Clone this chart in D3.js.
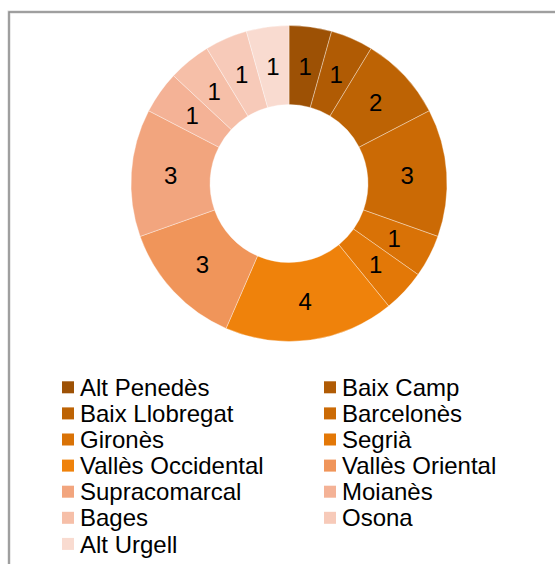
<!DOCTYPE html>
<html>
<head>
<meta charset="utf-8">
<script src="https://cdn.jsdelivr.net/npm/d3@7"></script>
<style>
  html, body { margin: 0; padding: 0; background: #fff; }
  svg { display: block; }
  text { font-family: "Liberation Sans", Arial, sans-serif; }
</style>
</head>
<body>
<svg id="chart" width="555" height="564"></svg>
<script>
// Comarques and their counts
const categories = ["Alt Penedès", "Baix Camp", "Baix Llobregat", "Barcelonès", "Gironès", "Segrià",
  "Vallès Occidental", "Vallès Oriental", "Supracomarcal", "Moianès", "Bages", "Osona", "Alt Urgell"];
const values = [1, 1, 2, 3, 1, 1, 4, 3, 3, 1, 1, 1, 1];
const colors = ["#9d5105", "#b05b04", "#bd6304", "#cb6a05", "#d97206", "#e37807", "#ef820b",
  "#f0955a", "#f2a57e", "#f4b296", "#f6bfa8", "#f7cab9", "#f9dbd0"];

const svg = d3.select("#chart");

// Frame of the chart area
svg.append("rect")
  .attr("x", 9).attr("y", 12).attr("width", 560).attr("height", 570)
  .attr("fill", "none").attr("stroke", "#d8d8d8").attr("stroke-width", 3);
svg.append("path")
  .attr("d", "M9,575 V12 H560")
  .attr("fill", "none").attr("stroke", "#8c8c8c").attr("stroke-width", 1.5);

const data = categories.map((c, i) => ({ name: c, value: values[i], color: colors[i] }));

const cx = 289, cy = 183.5, rOuter = 158, rInner = 79;

const pie = d3.pie().value(d => d.value).sort(null);
const arc = d3.arc().innerRadius(rInner).outerRadius(rOuter);
const labelArc = d3.arc().innerRadius((rInner + rOuter) / 2).outerRadius((rInner + rOuter) / 2);

const g = svg.append("g").attr("transform", `translate(${cx},${cy})`);
const arcs = pie(data);

g.selectAll("path.slice")
  .data(arcs)
  .join("path")
  .attr("class", "slice")
  .attr("d", arc)
  .attr("fill", d => d.data.color)
  .attr("stroke", "rgba(255,255,255,0.45)")
  .attr("stroke-width", 0.8);

g.selectAll("text.val")
  .data(arcs)
  .join("text")
  .attr("class", "val")
  .attr("transform", d => `translate(${labelArc.centroid(d)})`)
  .attr("text-anchor", "middle")
  .attr("dy", "0.36em")
  .attr("font-size", 24)
  .attr("fill", "#000")
  .text(d => d.data.value);

// Legend in two columns
const colX = [62, 324], rowY0 = 387.3, rowH = 26.1;
const legend = svg.append("g");
const items = legend.selectAll("g.item")
  .data(data)
  .join("g")
  .attr("class", "item")
  .attr("transform", (d, i) => `translate(${colX[i % 2]},${rowY0 + Math.floor(i / 2) * rowH})`);
items.append("rect")
  .attr("x", 0).attr("y", -6).attr("width", 12).attr("height", 12)
  .attr("fill", d => d.color);
items.append("text")
  .attr("x", 18).attr("y", 0).attr("dy", "0.36em")
  .attr("font-size", 24)
  .attr("fill", "#000")
  .text(d => d.name);
</script>
</body>
</html>
